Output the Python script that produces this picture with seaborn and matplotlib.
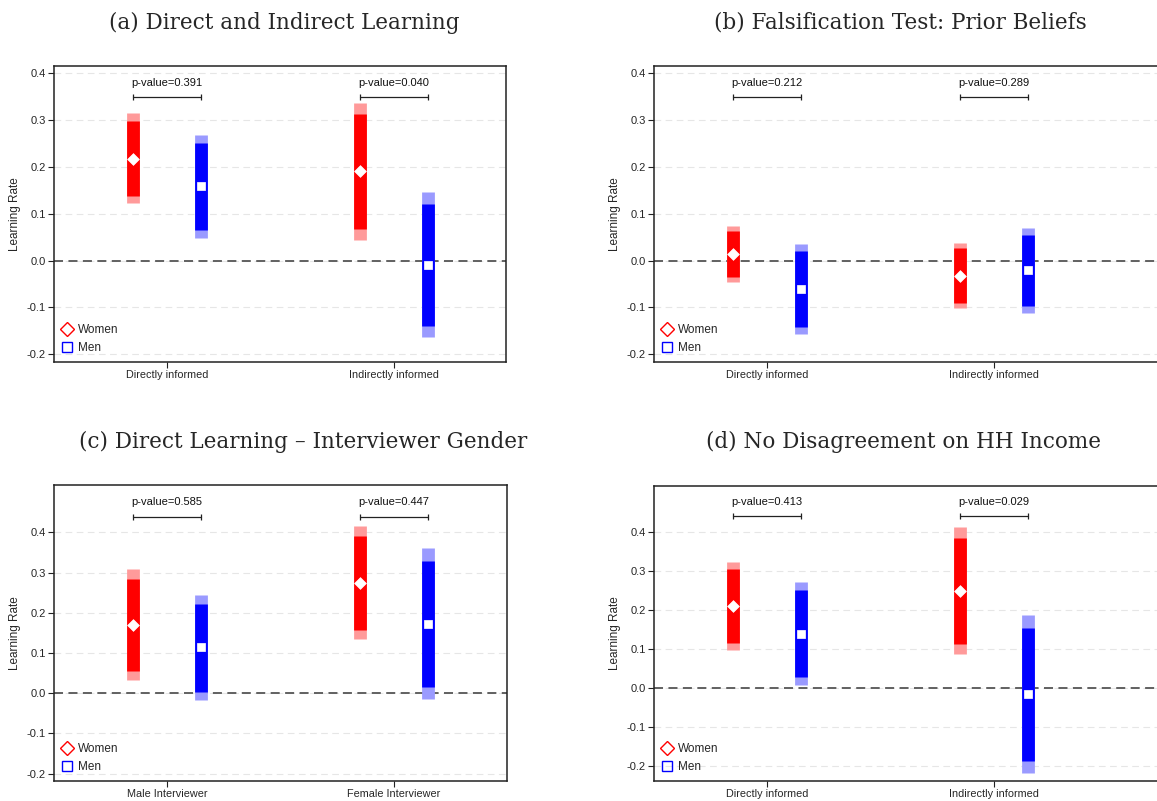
import numpy as np
import pandas as pd
import matplotlib
matplotlib.use("Agg")
import matplotlib.pyplot as plt
from matplotlib.lines import Line2D
import seaborn as sns

sns.set_style("white")
plt.rcParams["font.family"] = ["Liberation Sans", "DejaVu Sans"]
plt.rcParams["axes.unicode_minus"] = False

# ---- estimates with 90% and 95% confidence bounds ----
# (a) Direct and Indirect Learning
a_groups = ["Directly informed", "Indirectly informed"]
a_w_est = [0.218, 0.191]
a_w_lo90 = [0.138, 0.068]
a_w_hi90 = [0.298, 0.313]
a_w_lo95 = [0.122, 0.044]
a_w_hi95 = [0.315, 0.337]
a_m_est = [0.159, -0.009]
a_m_lo90 = [0.066, -0.139]
a_m_hi90 = [0.251, 0.121]
a_m_lo95 = [0.048, -0.164]
a_m_hi95 = [0.269, 0.146]
a_pvals = ["0.391", "0.040"]

# (b) Falsification Test: Prior Beliefs
b_groups = ["Directly informed", "Indirectly informed"]
b_w_est = [0.014, -0.032]
b_w_lo90 = [-0.036, -0.090]
b_w_hi90 = [0.064, 0.026]
b_w_lo95 = [-0.046, -0.101]
b_w_hi95 = [0.074, 0.038]
b_m_est = [-0.060, -0.021]
b_m_lo90 = [-0.141, -0.097]
b_m_hi90 = [0.020, 0.055]
b_m_lo95 = [-0.156, -0.111]
b_m_hi95 = [0.036, 0.069]
b_pvals = ["0.212", "0.289"]

# (c) Direct Learning – Interviewer Gender
c_groups = ["Male Interviewer", "Female Interviewer"]
c_w_est = [0.170, 0.275]
c_w_lo90 = [0.055, 0.156]
c_w_hi90 = [0.285, 0.392]
c_w_lo95 = [0.033, 0.134]
c_w_hi95 = [0.308, 0.416]
c_m_est = [0.115, 0.173]
c_m_lo90 = [0.004, 0.016]
c_m_hi90 = [0.223, 0.330]
c_m_lo95 = [-0.017, -0.015]
c_m_hi95 = [0.244, 0.360]
c_pvals = ["0.585", "0.447"]

# (d) No Disagreement on HH Income
d_groups = ["Directly informed", "Indirectly informed"]
d_w_est = [0.210, 0.249]
d_w_lo90 = [0.116, 0.113]
d_w_hi90 = [0.305, 0.385]
d_w_lo95 = [0.097, 0.086]
d_w_hi95 = [0.323, 0.412]
d_m_est = [0.139, -0.016]
d_m_lo90 = [0.028, -0.187]
d_m_hi90 = [0.251, 0.154]
d_m_lo95 = [0.007, -0.218]
d_m_hi95 = [0.272, 0.186]
d_pvals = ["0.413", "0.029"]

yticks = [-0.2, -0.1, 0.0, 0.1, 0.2, 0.3, 0.4]

panels = [
    dict(title="(a) Direct and Indirect Learning", groups=a_groups,
         w=(a_w_est, a_w_lo90, a_w_hi90, a_w_lo95, a_w_hi95),
         m=(a_m_est, a_m_lo90, a_m_hi90, a_m_lo95, a_m_hi95),
         p=a_pvals, rect=(54, 66, 506, 362), ylim=(-0.2165, 0.4156),
         bracket=0.349, tx=284, ty=23),
    dict(title="(b) Falsification Test: Prior Beliefs", groups=b_groups,
         w=(b_w_est, b_w_lo90, b_w_hi90, b_w_lo95, b_w_hi95),
         m=(b_m_est, b_m_lo90, b_m_hi90, b_m_lo95, b_m_hi95),
         p=b_pvals, rect=(654, 66, 1162, 362), ylim=(-0.2165, 0.4156),
         bracket=0.349, tx=900, ty=23),
    dict(title="(c) Direct Learning \u2013 Interviewer Gender", groups=c_groups,
         w=(c_w_est, c_w_lo90, c_w_hi90, c_w_lo95, c_w_hi95),
         m=(c_m_est, c_m_lo90, c_m_hi90, c_m_lo95, c_m_hi95),
         p=c_pvals, rect=(54, 485, 507, 781), ylim=(-0.2184, 0.5178),
         bracket=0.439, tx=303, ty=442),
    dict(title="(d) No Disagreement on HH Income", groups=d_groups,
         w=(d_w_est, d_w_lo90, d_w_hi90, d_w_lo95, d_w_hi95),
         m=(d_m_est, d_m_lo90, d_m_hi90, d_m_lo95, d_m_hi95),
         p=d_pvals, rect=(654, 486, 1162, 781), ylim=(-0.2384, 0.518),
         bracket=0.440, tx=904, ty=442),
]

W, H = 1157, 801
fig = plt.figure(figsize=(W / 100, H / 100), dpi=100)

RED, RED_L = "#ff0000", "#ff9a9a"
BLUE, BLUE_L = "#0000ff", "#9a9aff"
OFF = 0.15
BAR_LW = 9.2

for pn in panels:
    x0, y0, x1, y1 = pn["rect"]
    ax = fig.add_axes([x0 / W, (H - y1) / H, (x1 - x0) / W, (y1 - y0) / H])
    xmax = 0.5 + (x1 - x0) / 226.5
    ax.set_xlim(0.5, xmax)
    ax.set_ylim(*pn["ylim"])

    pos = np.array([1.0, 2.0])
    rows = []
    for sex, vals, xs, dark, light in [
        ("Women", pn["w"], pos - OFF, RED, RED_L),
        ("Men", pn["m"], pos + OFF, BLUE, BLUE_L),
    ]:
        est, lo90, hi90, lo95, hi95 = vals
        ax.vlines(xs, lo95, hi95, colors=light, lw=BAR_LW, capstyle="butt", zorder=3)
        ax.vlines(xs, lo90, hi90, colors=dark, lw=BAR_LW, capstyle="butt", zorder=4)
        for xi, e in zip(xs, est):
            rows.append(dict(x=xi, y=e, sex=sex))

    df = pd.DataFrame(rows)
    sns.scatterplot(data=df[df.sex == "Women"], x="x", y="y", marker="D", s=36,
                    color="white", edgecolor="white", linewidth=0.5, ax=ax,
                    zorder=6, legend=False)
    sns.scatterplot(data=df[df.sex == "Men"], x="x", y="y", marker="s", s=32,
                    color="white", edgecolor="white", linewidth=0.5, ax=ax,
                    zorder=6, legend=False)

    # p-value brackets
    for xc, pv in zip(pos, pn["p"]):
        yb = pn["bracket"]
        ax.plot([xc - OFF, xc + OFF], [yb, yb], color="#222222", lw=0.9,
                marker="|", markersize=4, markeredgewidth=0.9, zorder=5)
        ax.annotate(f"p-value={pv}", (xc, yb), xytext=(0, 10.5),
                    textcoords="offset points", ha="center", va="center",
                    fontsize=8, color="#111111")

    # reference lines
    for t in yticks:
        ax.axhline(t, color="#e6e6e6", lw=0.8, ls=(0, (6, 4)), zorder=1)
    ax.axhline(0, color="#555555", lw=1.3, ls=(0, (5, 3)), zorder=2)

    ax.set_yticks(yticks)
    ax.set_yticklabels([f"{t:.1f}" for t in yticks])
    ax.set_xticks(pos)
    ax.set_xticklabels(pn["groups"])
    ax.tick_params(axis="both", which="major", direction="out", length=4,
                   width=0.8, color="#222222", labelsize=8, pad=2,
                   bottom=True, left=True)
    ax.tick_params(axis="x", labelsize=7.8)
    ax.set_xlabel("")
    ax.set_ylabel("Learning Rate", fontsize=8.5, labelpad=4)
    for sp in ax.spines.values():
        sp.set_color("#222222")
        sp.set_linewidth(1.1)
    ax.grid(False)

    handles = [
        Line2D([], [], ls="", marker="D", markersize=7, markerfacecolor="none",
               markeredgecolor=RED, markeredgewidth=1.0, label="Women"),
        Line2D([], [], ls="", marker="s", markersize=7, markerfacecolor="none",
               markeredgecolor=BLUE, markeredgewidth=1.0, label="Men"),
    ]
    ax.legend(handles=handles, loc="lower left", frameon=False, fontsize=8.5,
              handlelength=0.8, handletextpad=0.5, labelspacing=0.45,
              borderaxespad=0.4, borderpad=0.3)

    fig.text(pn["tx"] / W, 1 - pn["ty"] / H, pn["title"], ha="center",
             va="center", fontsize=15.5, family=["DejaVu Serif"])

fig.savefig("out.png", dpi=100)
